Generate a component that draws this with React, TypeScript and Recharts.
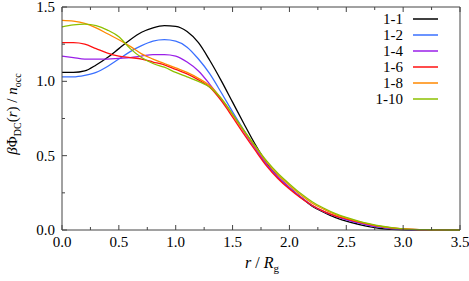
import React from 'react';
import { LineChart, Line, XAxis, YAxis, Legend } from 'recharts';

// r / Rg sample points
const R = [
  0.0, 0.1, 0.2, 0.3, 0.4, 0.5, 0.6, 0.7, 0.8, 0.9, 1.0, 1.1, 1.2, 1.3, 1.4, 1.5, 1.6, 1.7,
  1.8, 1.9, 2.0, 2.1, 2.2, 2.3, 2.4, 2.5, 2.6, 2.7, 2.8, 2.9, 3.0, 3.1, 3.2, 3.3, 3.4, 3.5,
];

const S_1_1 = [
  1.06, 1.06, 1.07, 1.11, 1.16, 1.22, 1.28, 1.33, 1.36, 1.375, 1.37, 1.335, 1.26, 1.14, 1.005, 0.86, 0.715, 0.575,
  0.45, 0.355, 0.285, 0.22, 0.16, 0.12, 0.085, 0.06, 0.04, 0.022, 0.01, 0.004, 0.001, 0, 0, 0, 0, 0,
];
const S_1_2 = [
  1.03, 1.03, 1.04, 1.06, 1.1, 1.15, 1.2, 1.24, 1.27, 1.28, 1.27, 1.23, 1.15, 1.05, 0.925, 0.795, 0.67, 0.55,
  0.44, 0.355, 0.285, 0.22, 0.165, 0.125, 0.095, 0.07, 0.05, 0.032, 0.019, 0.01, 0.004, 0.001, 0, 0, 0, 0,
];
const S_1_4 = [
  1.17, 1.16, 1.15, 1.15, 1.15, 1.155, 1.16, 1.17, 1.18, 1.18, 1.17, 1.13, 1.07, 0.98, 0.88, 0.775, 0.66, 0.55,
  0.44, 0.355, 0.285, 0.22, 0.165, 0.125, 0.095, 0.07, 0.05, 0.032, 0.019, 0.01, 0.004, 0.001, 0, 0, 0, 0,
];
const S_1_6 = [
  1.26, 1.26, 1.25, 1.22, 1.19, 1.17, 1.16, 1.15, 1.13, 1.11, 1.08, 1.05, 1.01, 0.96, 0.87, 0.76, 0.645, 0.535,
  0.43, 0.345, 0.275, 0.215, 0.165, 0.125, 0.095, 0.075, 0.055, 0.038, 0.024, 0.014, 0.008, 0.004, 0.002, 0.001, 0, 0,
];
const S_1_8 = [
  1.41, 1.405, 1.39, 1.36, 1.32, 1.28, 1.235, 1.185, 1.15, 1.12, 1.09, 1.06, 1.02, 0.97, 0.885, 0.775, 0.665, 0.56,
  0.455, 0.37, 0.3, 0.235, 0.18, 0.14, 0.105, 0.08, 0.058, 0.04, 0.025, 0.014, 0.007, 0.003, 0.001, 0, 0, 0,
];
const S_1_10 = [
  1.367, 1.38, 1.385, 1.375, 1.345, 1.3, 1.22, 1.16, 1.12, 1.095, 1.06, 1.03, 1.0, 0.96, 0.885, 0.78, 0.67, 0.565,
  0.465, 0.38, 0.31, 0.245, 0.19, 0.148, 0.112, 0.085, 0.062, 0.043, 0.027, 0.016, 0.008, 0.004, 0.002, 0.001, 0, 0,
];

const X_TICKS = [0, 0.25, 0.5, 0.75, 1, 1.25, 1.5, 1.75, 2, 2.25, 2.5, 2.75, 3, 3.25, 3.5];
const Y_TICKS = [0, 0.25, 0.5, 0.75, 1, 1.25, 1.5];

const SERIES = [
  { key: 's11', name: '1-1', values: S_1_1, color: '#000000' },
  { key: 's12', name: '1-2', values: S_1_2, color: '#3a70ff' },
  { key: 's14', name: '1-4', values: S_1_4, color: '#9a1fe8' },
  { key: 's16', name: '1-6', values: S_1_6, color: '#ff1010' },
  { key: 's18', name: '1-8', values: S_1_8, color: '#ff8800' },
  { key: 's110', name: '1-10', values: S_1_10, color: '#8cc000' },
];

const data = R.map((r, i) => {
  const row: Record<string, number> = { r };
  SERIES.forEach((s) => (row[s.key] = s.values[i]));
  return row;
});

const AXIS = '#444';
const FONT = "'Liberation Serif', 'Times New Roman', serif";

const isMajor = (v: number) => Math.abs(v * 2 - Math.round(v * 2)) < 1e-6;

const BottomTick = (p: any) => {
  const { x, y, payload } = p;
  const major = isMajor(payload.value);
  return (
    <g>
      <line x1={x} x2={x} y1={y} y2={y - (major ? 5 : 3)} stroke={AXIS} />
      {major && (
        <text x={x} y={y + 17} textAnchor="middle" fontSize={15} fontFamily={FONT} fill="#000">
          {payload.value.toFixed(1)}
        </text>
      )}
    </g>
  );
};

const TopTick = (p: any) => {
  const { x, y, payload } = p;
  return <line x1={x} x2={x} y1={y} y2={y + (isMajor(payload.value) ? 5 : 3)} stroke={AXIS} />;
};

const LeftTick = (p: any) => {
  const { x, y, payload } = p;
  const major = isMajor(payload.value);
  return (
    <g>
      <line x1={x} x2={x + (major ? 5 : 3)} y1={y} y2={y} stroke={AXIS} />
      {major && (
        <text x={x - 7} y={y + 5} textAnchor="end" fontSize={15} fontFamily={FONT} fill="#000">
          {payload.value.toFixed(1)}
        </text>
      )}
    </g>
  );
};

const RightTick = (p: any) => {
  const { x, y, payload } = p;
  return <line x1={x} x2={x - (isMajor(payload.value) ? 5 : 3)} y1={y} y2={y} stroke={AXIS} />;
};

const LegendBox = () => (
  <div style={{ fontFamily: FONT, fontSize: 15 }}>
    {SERIES.map((s) => (
      <div key={s.key} style={{ display: 'flex', alignItems: 'center', height: 16 }}>
        <span style={{ width: 63, textAlign: 'right', lineHeight: '16px' }}>{s.name}</span>
        <svg width={25} height={4} style={{ marginLeft: 10, display: 'block' }}>
          <line x1={0} x2={25} y1={2} y2={2} stroke={s.color} strokeWidth={1.5} />
        </svg>
      </div>
    ))}
  </div>
);

export default function App() {
  return (
    <div style={{ position: 'absolute', left: 0, top: 0, width: 469, height: 281, background: '#fff' }}>
      <LineChart width={469} height={281} data={data} margin={{ top: 6, right: 8, bottom: 21, left: 22 }}>
        <XAxis
          dataKey="r"
          type="number"
          domain={[0, 3.5]}
          ticks={X_TICKS}
          interval={0}
          height={30}
          tickSize={0}
          tickMargin={0}
          tickLine={false}
          tick={<BottomTick />}
          axisLine={{ stroke: AXIS }}
        />
        <XAxis
          xAxisId="top"
          orientation="top"
          dataKey="r"
          type="number"
          domain={[0, 3.5]}
          ticks={X_TICKS}
          interval={0}
          height={1}
          tickSize={0}
          tickMargin={0}
          tickLine={false}
          tick={<TopTick />}
          axisLine={{ stroke: AXIS }}
        />
        <YAxis
          type="number"
          domain={[0, 1.5]}
          ticks={Y_TICKS}
          interval={0}
          width={40}
          tickSize={0}
          tickMargin={0}
          tickLine={false}
          tick={<LeftTick />}
          axisLine={{ stroke: AXIS }}
        />
        <YAxis
          yAxisId="right"
          orientation="right"
          type="number"
          domain={[0, 1.5]}
          ticks={Y_TICKS}
          interval={0}
          width={1}
          tickSize={0}
          tickMargin={0}
          tickLine={false}
          tick={<RightTick />}
          axisLine={{ stroke: AXIS }}
        />
        <Legend
          layout="horizontal"
          verticalAlign="middle"
          align="center"
          content={<LegendBox />}
          wrapperStyle={{ position: 'absolute', top: 11, left: 340, width: 100 }}
        />
        {SERIES.map((s) => (
          <Line
            key={s.key}
            dataKey={s.key}
            name={s.name}
            type="monotone"
            stroke={s.color}
            strokeWidth={1.3}
            dot={false}
            isAnimationActive={false}
          />
        ))}
      </LineChart>
      <svg
        width={469}
        height={281}
        style={{ position: 'absolute', left: 0, top: 0, pointerEvents: 'none' }}
        fontFamily={FONT}
      >
        <text x={262} y={268} textAnchor="middle" fontSize={16} fill="#000">
          <tspan fontStyle="italic">r</tspan>
          <tspan> / </tspan>
          <tspan fontStyle="italic">R</tspan>
          <tspan fontSize={11} dy={4}>g</tspan>
        </text>
        <text transform="translate(17,114) rotate(-90)" textAnchor="middle" fontSize={15} fill="#000">
          <tspan fontStyle="italic">β</tspan>
          <tspan>Φ</tspan>
          <tspan fontSize={10} dy={4}>DC</tspan>
          <tspan dy={-4}>(</tspan>
          <tspan fontStyle="italic">r</tspan>
          <tspan>) / </tspan>
          <tspan fontStyle="italic">n</tspan>
          <tspan fontSize={10} dy={4}>occ</tspan>
        </text>
      </svg>
    </div>
  );
}
